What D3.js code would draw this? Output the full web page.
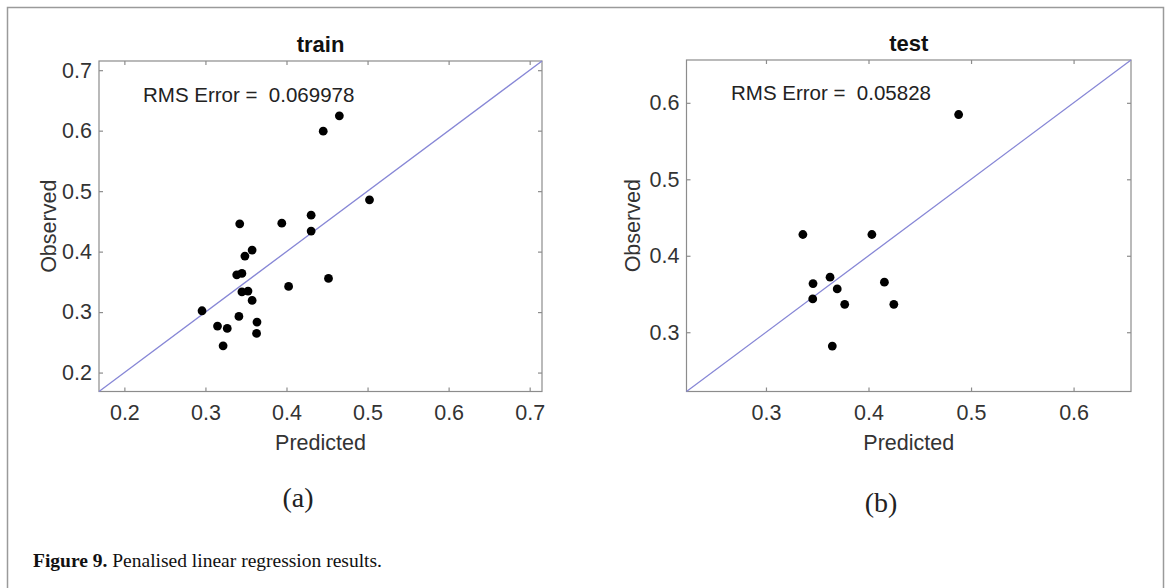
<!DOCTYPE html>
<html>
<head>
<meta charset="utf-8">
<script src="https://cdn.jsdelivr.net/npm/d3@7"></script>
<style>
  html, body { margin: 0; padding: 0; background: #fff; }
  svg { display: block; }
</style>
</head>
<body>
<svg id="chart" width="1172" height="588"></svg>
<script>
// ---- Data ----
const trainPredicted = [0.4652, 0.4453, 0.5024, 0.4304, 0.4304, 0.3942, 0.3423, 0.3576, 0.3487, 0.3386, 0.3450, 0.4518, 0.4026, 0.3450, 0.3525, 0.3576, 0.2958, 0.3413, 0.3149, 0.3269, 0.3636, 0.3631, 0.3218];
const trainObserved  = [0.6245, 0.5992, 0.4856, 0.4603, 0.4339, 0.4471, 0.4460, 0.4025, 0.3926, 0.3617, 0.3640, 0.3557, 0.3424, 0.3336, 0.3347, 0.3193, 0.3022, 0.2929, 0.2769, 0.2730, 0.2835, 0.2648, 0.2443];
const testPredicted  = [0.4879, 0.3360, 0.4033, 0.3625, 0.3459, 0.3695, 0.4155, 0.3456, 0.3768, 0.4247, 0.3647];
const testObserved   = [0.5847, 0.4278, 0.4278, 0.3720, 0.3636, 0.3566, 0.3654, 0.3435, 0.3365, 0.3365, 0.2819];

const trainTicks = [0.2, 0.3, 0.4, 0.5, 0.6, 0.7];
const testTicks  = [0.3, 0.4, 0.5, 0.6];
const trainLimits = [0.1687, 0.7152];
const testLimits  = [0.2225, 0.656];

const panelTitles = ["train", "test"];
const rmsValues = ["0.069978", "0.05828"];
const panelLetters = ["(a)", "(b)"];
const xLabel = "Predicted";
const yLabel = "Observed";
const captionBold = "Figure 9.";
const captionText = " Penalised linear regression results.";

// ---- Drawing ----
const svg = d3.select("#chart");
const sans = "'Liberation Sans', Arial, sans-serif";
const serif = "'Liberation Serif', 'Times New Roman', serif";

// outer frame
svg.append("rect")
  .attr("x", 7.5).attr("y", 7.5).attr("width", 1156).attr("height", 600)
  .attr("fill", "none").attr("stroke", "#9a9a9a").attr("stroke-width", 1.5);

const panels = [
  { left: 99, right: 542, top: 61, bottom: 391.5, lim: trainLimits, ticks: trainTicks,
    px: trainPredicted, py: trainObserved, title: panelTitles[0], rms: rmsValues[0],
    rmsX: 143, rmsY: 101.5, obsX: 56, letter: panelLetters[0], letterX: 298, letterY: 497 },
  { left: 686.5, right: 1131, top: 60, bottom: 391.5, lim: testLimits, ticks: testTicks,
    px: testPredicted, py: testObserved, title: panelTitles[1], rms: rmsValues[1],
    rmsX: 731, rmsY: 100, obsX: 640, letter: panelLetters[1], letterX: 881, letterY: 502 }
];

const axisColor = "#8c8c8c";
const textColor = "#333";

panels.forEach(p => {
  const x = d3.scaleLinear().domain(p.lim).range([p.left, p.right]);
  const y = d3.scaleLinear().domain(p.lim).range([p.bottom, p.top]);
  const g = svg.append("g");

  // box
  g.append("rect")
    .attr("x", p.left).attr("y", p.top)
    .attr("width", p.right - p.left).attr("height", p.bottom - p.top)
    .attr("fill", "#fff").attr("stroke", axisColor).attr("stroke-width", 1.2);

  const tl = 4;
  const xb = d3.axisBottom(x).tickValues(p.ticks).tickSize(-tl).tickPadding(13.5).tickFormat(d3.format(".1f"));
  const gxb = g.append("g").attr("transform", `translate(0,${p.bottom})`).call(xb);
  const xt = d3.axisTop(x).tickValues(p.ticks).tickSize(-tl).tickFormat("");
  const gxt = g.append("g").attr("transform", `translate(0,${p.top})`).call(xt);
  const yl = d3.axisLeft(y).tickValues(p.ticks).tickSize(-tl).tickPadding(7).tickFormat(d3.format(".1f"));
  const gyl = g.append("g").attr("transform", `translate(${p.left},0)`).call(yl);
  const yr = d3.axisRight(y).tickValues(p.ticks).tickSize(-tl).tickFormat("");
  const gyr = g.append("g").attr("transform", `translate(${p.right},0)`).call(yr);

  [gxb, gxt, gyl, gyr].forEach(a => {
    a.select(".domain").remove();
    a.selectAll(".tick line").attr("stroke", axisColor).attr("stroke-width", 1.2);
    a.selectAll(".tick text").attr("fill", textColor)
      .style("font-family", sans).style("font-size", "21.5px");
  });

  // diagonal reference line
  g.append("line")
    .attr("x1", x(p.lim[0])).attr("y1", y(p.lim[0]))
    .attr("x2", x(p.lim[1])).attr("y2", y(p.lim[1]))
    .attr("stroke", "#8787d6").attr("stroke-width", 1.3);

  // points
  g.selectAll("circle.pt").data(p.px.map((v, i) => [v, p.py[i]]))
    .enter().append("circle").attr("class", "pt")
    .attr("cx", d => x(d[0])).attr("cy", d => y(d[1]))
    .attr("r", 4.4).attr("fill", "#000");

  // title
  g.append("text")
    .attr("x", (p.left + p.right) / 2).attr("y", p.top - 9)
    .attr("text-anchor", "middle")
    .style("font-family", sans).style("font-size", "22px").style("font-weight", "bold")
    .attr("fill", "#111").text(p.title);

  // RMS text
  g.append("text")
    .attr("x", p.rmsX).attr("y", p.rmsY)
    .style("font-family", sans).style("font-size", "20.5px")
    .style("white-space", "pre").attr("xml:space", "preserve")
    .attr("fill", "#222").text("RMS Error =  " + p.rms);

  // x label
  g.append("text")
    .attr("x", (p.left + p.right) / 2).attr("y", 450)
    .attr("text-anchor", "middle")
    .style("font-family", sans).style("font-size", "21.5px")
    .attr("fill", textColor).text(xLabel);

  // y label
  g.append("text")
    .attr("transform", `translate(${p.obsX},${(p.top + p.bottom) / 2}) rotate(-90)`)
    .attr("text-anchor", "middle")
    .style("font-family", sans).style("font-size", "21.5px")
    .attr("fill", textColor).text(yLabel);

  // panel letter
  g.append("text")
    .attr("x", p.letterX).attr("y", p.letterY)
    .attr("text-anchor", "middle").attr("dominant-baseline", "central")
    .style("font-family", serif).style("font-size", "28px")
    .attr("fill", "#222").text(p.letter);
});

// caption
const cap = svg.append("text")
  .attr("x", 33).attr("y", 567)
  .style("font-family", serif).style("font-size", "19.5px").attr("fill", "#111")
  .attr("xml:space", "preserve");
cap.append("tspan").style("font-weight", "bold").text(captionBold);
cap.append("tspan").text(captionText);
</script>
</body>
</html>
